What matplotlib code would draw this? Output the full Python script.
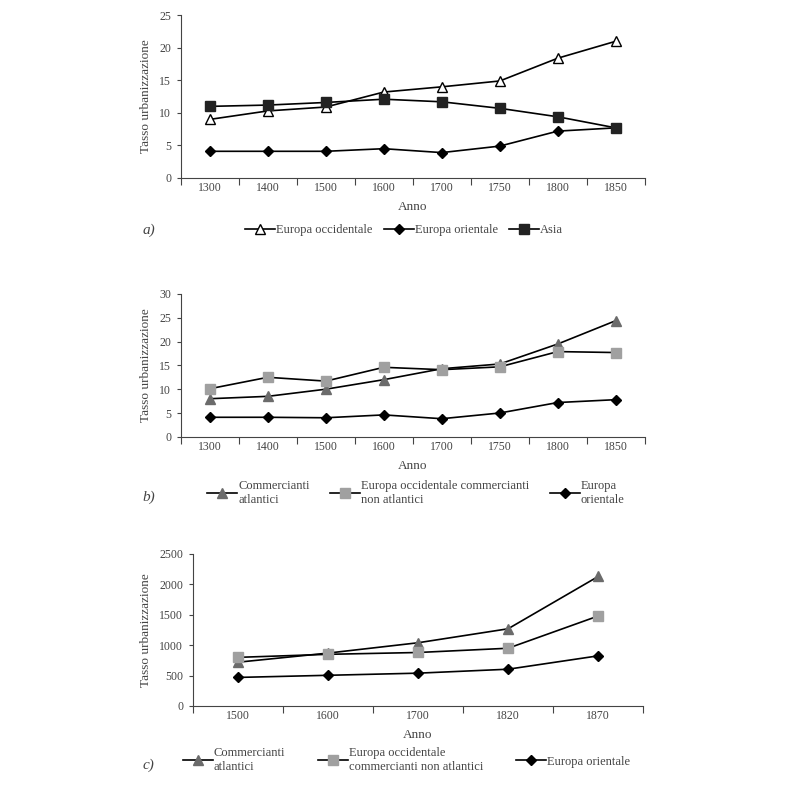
import numpy as np
import matplotlib
matplotlib.use('Agg')
import matplotlib.pyplot as plt

plt.rcParams['font.family'] = ['Liberation Serif', 'DejaVu Serif']
plt.rcParams['text.color'] = '#444444'
plt.rcParams['axes.labelcolor'] = '#444444'
plt.rcParams['xtick.color'] = '#444444'
plt.rcParams['ytick.color'] = '#444444'

# panel a
years_a = ['1300', '1400', '1500', '1600', '1700', '1750', '1800', '1850']
europa_occ_a = [9.0, 10.3, 10.9, 13.2, 14.0, 14.9, 18.4, 21.0]
europa_ori_a = [4.1, 4.1, 4.1, 4.5, 3.9, 4.9, 7.2, 7.7]
asia_a = [11.0, 11.2, 11.6, 12.1, 11.7, 10.7, 9.4, 7.7]

# panel b
years_b = ['1300', '1400', '1500', '1600', '1700', '1750', '1800', '1850']
atlantici_b = [8.0, 8.5, 10.0, 12.0, 14.3, 15.3, 19.5, 24.4]
non_atlantici_b = [10.1, 12.5, 11.7, 14.6, 14.1, 14.7, 17.9, 17.7]
europa_ori_b = [4.1, 4.1, 4.0, 4.6, 3.8, 5.0, 7.2, 7.8]

# panel c
years_c = ['1500', '1600', '1700', '1820', '1870']
atlantici_c = [720, 870, 1040, 1270, 2130]
non_atlantici_c = [800, 850, 880, 950, 1480]
europa_ori_c = [470, 505, 540, 605, 825]

fig = plt.figure(figsize=(8, 8), dpi=100)


def setup_axes(ax, cats, ymax, ystep):
    n = len(cats)
    ax.set_xlim(0, n)
    ax.set_ylim(0, ymax)
    ax.set_xticks(np.arange(n + 1))
    ax.set_xticklabels([])
    ax.set_xticks(np.arange(n) + 0.5, minor=True)
    ax.set_xticklabels(cats, minor=True)
    ax.tick_params(axis='x', which='major', length=5, width=0.8, direction='out')
    ax.tick_params(axis='x', which='minor', length=0, pad=3, labelsize=8.5)
    ax.set_yticks(np.arange(0, ymax + 1, ystep))
    ax.tick_params(axis='y', length=3, width=0.8, labelsize=8.5, pad=4)
    for s in ['top', 'right']:
        ax.spines[s].set_visible(False)
    for s in ['left', 'bottom']:
        ax.spines[s].set_color('#444444')
        ax.spines[s].set_linewidth(0.8)
    ax.set_xlabel('Anno', fontsize=9.5, labelpad=5)
    ax.set_ylabel('Tasso urbanizzazione', fontsize=9.5, labelpad=5)


line_kw = dict(color='black', linewidth=1.2, markersize=7.5)
dia_kw = dict(color='black', linewidth=1.2, markersize=5.5)
leg_kw = dict(loc='center', ncol=3, frameon=False, fontsize=9, handlelength=2.4,
              handletextpad=0.1)

# a)
ax1 = fig.add_axes([0.226, 0.7775, 0.58, 0.2035])
x = np.arange(len(years_a)) + 0.5
l1 = ax1.plot(x, europa_occ_a, marker='^', markerfacecolor='white', markeredgecolor='black',
              label='Europa occidentale', **line_kw)[0]
l2 = ax1.plot(x, europa_ori_a, marker='D', markerfacecolor='black', markeredgecolor='black',
              label='Europa orientale', **dia_kw)[0]
l3 = ax1.plot(x, asia_a, marker='s', markerfacecolor='#222222', markeredgecolor='#222222',
              label='Asia', **line_kw)[0]
setup_axes(ax1, years_a, 25, 5)
fig.legend(handles=[l1, l2, l3], bbox_to_anchor=(0.505, 0.712), columnspacing=0.9, **leg_kw)
fig.text(0.178, 0.712, 'a)', fontsize=11, style='italic', va='center')

# b)
ax2 = fig.add_axes([0.226, 0.454, 0.58, 0.1785])
x = np.arange(len(years_b)) + 0.5
m1 = ax2.plot(x, atlantici_b, marker='^', markerfacecolor='#6b6b6b', markeredgecolor='#6b6b6b',
              label='Commercianti\natlantici', **line_kw)[0]
m2 = ax2.plot(x, non_atlantici_b, marker='s', markerfacecolor='#a0a0a0', markeredgecolor='#a0a0a0',
              label='Europa occidentale commercianti\nnon atlantici', **line_kw)[0]
m3 = ax2.plot(x, europa_ori_b, marker='D', markerfacecolor='black', markeredgecolor='black',
              label='Europa\norientale', **dia_kw)[0]
setup_axes(ax2, years_b, 30, 5)
fig.legend(handles=[m1, m2, m3], bbox_to_anchor=(0.52, 0.384), columnspacing=1.6, **leg_kw)
fig.text(0.178, 0.378, 'b)', fontsize=11, style='italic', va='center')

# c)
ax3 = fig.add_axes([0.241, 0.1175, 0.563, 0.19])
x = np.arange(len(years_c)) + 0.5
n1 = ax3.plot(x, atlantici_c, marker='^', markerfacecolor='#6b6b6b', markeredgecolor='#6b6b6b',
              label='Commercianti\natlantici', **line_kw)[0]
n2 = ax3.plot(x, non_atlantici_c, marker='s', markerfacecolor='#a0a0a0', markeredgecolor='#a0a0a0',
              label='Europa occidentale\ncommercianti non atlantici', **line_kw)[0]
n3 = ax3.plot(x, europa_ori_c, marker='D', markerfacecolor='black', markeredgecolor='black',
              label='Europa orientale', **dia_kw)[0]
setup_axes(ax3, years_c, 2500, 500)
fig.legend(handles=[n1, n2, n3], bbox_to_anchor=(0.508, 0.05), columnspacing=2.6, **leg_kw)
fig.text(0.178, 0.043, 'c)', fontsize=11, style='italic', va='center')

fig.savefig('out.png', dpi=100, facecolor='white')
